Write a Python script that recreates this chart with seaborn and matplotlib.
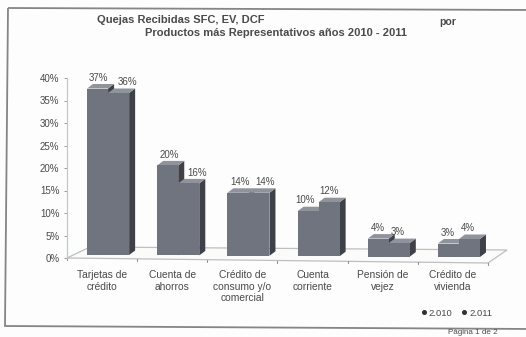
import matplotlib
matplotlib.use("Agg")
import matplotlib.pyplot as plt
from matplotlib.lines import Line2D
from matplotlib.patches import Polygon
import pandas as pd
import seaborn as sns

# Complaints per product, in percent
categories = [
    "Tarjetas de\ncrédito",
    "Cuenta de\nahorros",
    "Crédito de\nconsumo y/o\ncomercial",
    "Cuenta\ncorriente",
    "Pensión de\nvejez",
    "Crédito de\nvivienda",
]
values_2010 = [37, 20, 14, 10, 4, 3]
values_2011 = [36, 16, 14, 12, 3, 4]
years = ["2.010", "2.011"]

W, H = 526, 337
TEXT = "#4a4a4a"
FRONT = "#6f747f"
SIDE = "#3e4148"
TOP = "#8f939b"

sns.set_theme(style="white")
plt.rcParams["font.family"] = ["Liberation Sans", "DejaVu Sans"]

fig = plt.figure(figsize=(W / 100, H / 100), dpi=100, facecolor="#fdfdfd")
ax = fig.add_axes([67 / W, 1 - 258 / H, 421 / W, 180 / H], facecolor="none")

table = pd.DataFrame({
    "producto": categories * 2,
    "valor": values_2010 + values_2011,
    "anio": [years[0]] * len(categories) + [years[1]] * len(categories),
})
sns.barplot(data=table, x="producto", y="valor", hue="anio", order=categories,
            hue_order=years, palette=[FRONT, FRONT], width=0.6, gap=0,
            dodge=True, legend=False, ax=ax, zorder=3, errorbar=None,
            saturation=1, linewidth=0)

ax.set_xlim(-0.5, 5.5)
ax.set_ylim(0, 40)

# Unit conversion between screen pixels and data units
px_x = 6 / 421
px_y = 40 / 180

# Floor of the pseudo-3D box
front_drop = 5 * px_y
floor = Polygon(
    [(-0.5, 0), (-0.5 + 23 * px_x, 11 * px_y), (5.5 + 19 * px_x, 8 * px_y), (5.5, -front_drop)],
    closed=True, facecolor="#fbfbfa", edgecolor="#bcc0c0", linewidth=0.9,
    clip_on=False, zorder=1,
)
ax.add_patch(floor)

# Category boundary marks along the front edge of the floor
n = len(categories)
for b in range(n + 1):
    edge_y = -front_drop * b / n
    ax.plot([b - 0.5, b - 0.5], [edge_y, edge_y - 2 * px_y], color="#8e9191",
            linewidth=0.8, clip_on=False, zorder=2)

# Extrude each bar: move the face onto the floor, then add its side and top
depth_x, depth_y = 6 * px_x, 4.5 * px_y
bars = [b for b in ax.patches if b is not floor]
for k, bar in enumerate(bars):
    i, series = k % n, k // n
    bar.set_x(bar.get_x() + 6 * px_x)
    bar.set_y(3 * px_y - i * 0.4 * px_y)
    x0, x1 = bar.get_x(), bar.get_x() + bar.get_width()
    y0, y1 = bar.get_y(), bar.get_y() + bar.get_height()
    z = 3 + series
    bar.set_zorder(z + 0.2)
    bar.set_clip_on(False)
    ax.add_patch(Polygon([(x1, y0), (x1 + depth_x, y0 + depth_y),
                          (x1 + depth_x, y1 + depth_y), (x1, y1)],
                         facecolor=SIDE, edgecolor="none", zorder=z, clip_on=False))
    ax.add_patch(Polygon([(x0, y1), (x1, y1), (x1 + depth_x, y1 + depth_y),
                          (x0 + depth_x, y1 + depth_y)],
                         facecolor=TOP, edgecolor="none", zorder=z, clip_on=False))

# Value labels, with a horizontal nudge per bar to avoid the neighbouring bar
nudges = [[-2, -1, -1, -6, -3, -3], [6, 6, 3, -3, -4, -4]]
for k, bar in enumerate(bars):
    i, series = k % n, k // n
    value = (values_2010 + values_2011)[k]
    cx = bar.get_x() + bar.get_width() / 2
    ax.annotate(f"{value}%", (cx, value + 3 * px_y - i * 0.4 * px_y + depth_y),
                xytext=(nudges[series][i] * 0.72 + 2, 1), textcoords="offset points",
                ha="center", va="bottom", fontsize=7, color=TEXT, zorder=8,
                annotation_clip=False)

# Axes styling
sns.despine(ax=ax, bottom=True, top=True, right=True)
ax.spines["left"].set_color("#c4c7c7")
ax.spines["left"].set_linewidth(0.9)
ax.set_xlabel("")
ax.set_ylabel("")
ax.set_yticks(range(0, 41, 5))
ax.set_yticklabels([f"{v}%" for v in range(0, 41, 5)])
ax.tick_params(axis="y", labelsize=7, labelcolor=TEXT, length=2.5, width=0.7,
               color="#9a9d9d", left=True, pad=3)
ax.tick_params(axis="x", labelsize=7.4, labelcolor=TEXT, length=0, pad=9)
ax.set_xticks(range(n))
ax.set_xticklabels(categories, linespacing=1.15)

# Outer frame of the chart, running past the right edge of the page
frame = Polygon(
    [(8 / W, 1 - 8 / H), (532 / W, 1 - 10 / H), (532 / W, 1 - 329 / H), (5 / W, 1 - 326 / H)],
    closed=True, facecolor="none", edgecolor="#858585", linewidth=1.3,
    transform=fig.transFigure, clip_on=True,
)
fig.add_artist(frame)

# Titles
fig.text(97 / W, 1 - 20 / H, "Quejas Recibidas SFC, EV, DCF", fontsize=8, weight="bold",
         color=TEXT, ha="left", va="center")
fig.text(439 / W, 1 - 22 / H, "por", fontsize=7.6, weight="bold", color=TEXT,
         ha="left", va="center")
fig.text(145 / W, 1 - 33 / H, "Productos más Representativos años 2010 - 2011", fontsize=8,
         weight="bold", color=TEXT, ha="left", va="center")

# Legend
handles = [Line2D([], [], linestyle="none", marker="o", markersize=2.6, color="#333333")
           for _ in years]
fig.legend(handles, years, ncol=2, frameon=False, fontsize=6.8, labelcolor=TEXT,
           loc="center", bbox_to_anchor=(456 / W, 1 - 313 / H), handletextpad=0.1,
           columnspacing=0.9, handlelength=0.8, borderpad=0)

# Page footer
fig.text(473 / W, 1 - 333 / H, "Página 1 de 2", fontsize=5.8, color=TEXT, ha="center", va="center")

fig.savefig("out.png", dpi=100, facecolor=fig.get_facecolor())
